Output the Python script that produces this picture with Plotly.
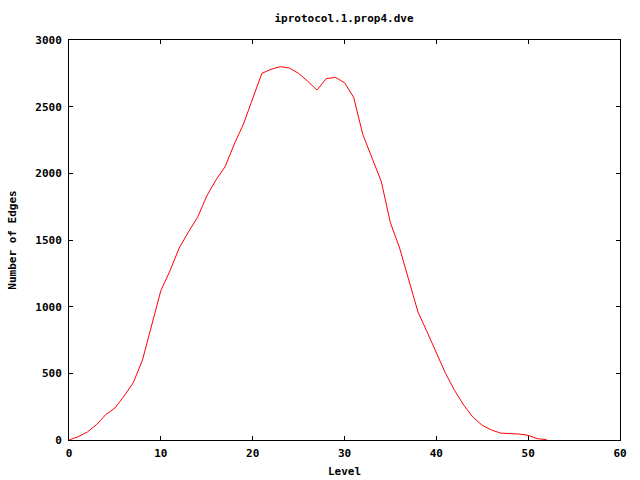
import plotly.graph_objects as go

levels = list(range(0, 53))
edges = [0, 25, 60, 115, 190, 240, 330, 430, 600, 870,
         1120, 1270, 1440, 1560, 1670, 1830, 1950, 2050, 2220, 2370,
         2560, 2750, 2780, 2800, 2790, 2750, 2690, 2625, 2710, 2720,
         2680, 2570, 2290, 2120, 1940, 1630, 1440, 1200, 960, 810,
         650, 500, 370, 260, 170, 110, 75, 52, 48, 45,
         35, 10, 3]

title_text = "iprotocol.1.prop4.dve"
x_title = "Level"
y_title = "Number of Edges"

font = dict(family="DejaVu Sans Mono", size=11, color="black", weight="bold")

fig = go.Figure()
fig.add_trace(go.Scatter(x=levels, y=edges, mode="lines",
                         line=dict(color="#ff0000", width=1), showlegend=False))

axis_common = dict(showline=True, linecolor="black", linewidth=1, mirror="ticks",
                   ticks="inside", ticklen=4, tickcolor="black", showgrid=False,
                   zeroline=False, tickfont=font, automargin=False)

fig.update_layout(
    width=640, height=480,
    margin=dict(l=69, r=20, t=40, b=40),
    paper_bgcolor="white", plot_bgcolor="white",
    title=dict(text=title_text, x=344 / 640, xanchor="center", y=1 - 18/480,
               yanchor="middle", font=font, automargin=False),
    xaxis=dict(range=[0, 60], dtick=10, ticklabelstandoff=3,
               title=dict(text=x_title, font=font, standoff=8), **axis_common),
    yaxis=dict(range=[0, 3000], dtick=500, ticklabelstandoff=4,
               title=dict(text=y_title, font=font, standoff=16), **axis_common),
)

fig.write_html("out.html", config={"displayModeBar": False},
               post_script="document.body.style.margin='0';document.body.style.overflow='hidden';")
